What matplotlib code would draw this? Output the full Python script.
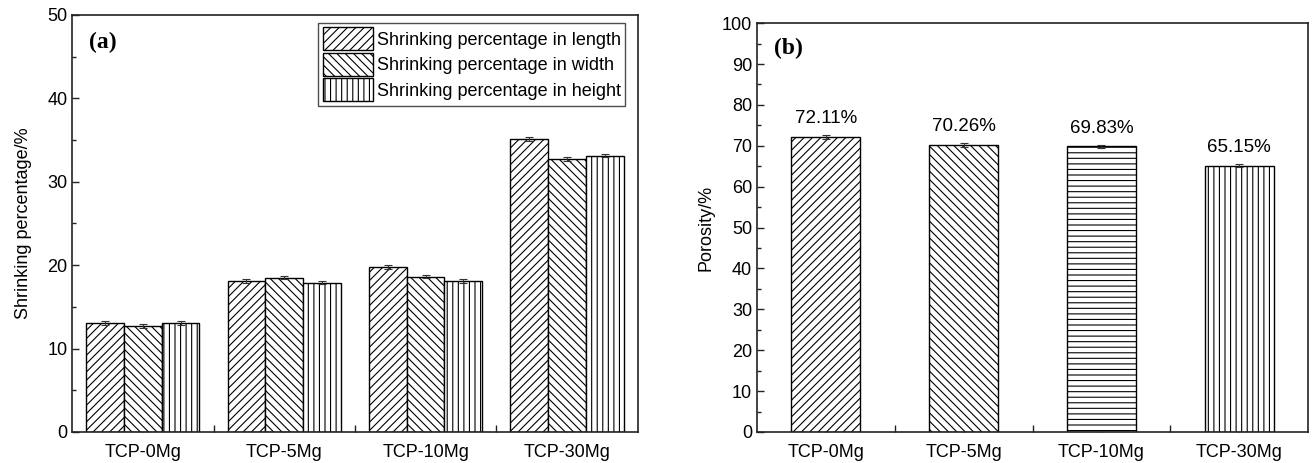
import matplotlib
matplotlib.use("Agg")
import matplotlib.pyplot as plt
import numpy as np
from matplotlib.ticker import MultipleLocator

plt.rcParams['font.family'] = ['Liberation Sans', 'DejaVu Sans']
plt.rcParams['hatch.linewidth'] = 0.8
plt.rcParams['hatch.color'] = 'black'

samples = ["TCP-0Mg", "TCP-5Mg", "TCP-10Mg", "TCP-30Mg"]

# Shrinking percentage (%) by direction
shrink_length = [13.1, 18.1, 19.8, 35.1]
shrink_width = [12.7, 18.5, 18.6, 32.7]
shrink_height = [13.1, 17.9, 18.1, 33.1]
shrink_length_err = [0.25, 0.25, 0.25, 0.2]
shrink_width_err = [0.2, 0.2, 0.2, 0.2]
shrink_height_err = [0.25, 0.2, 0.2, 0.2]
shrink_labels = ["Shrinking percentage in length",
                 "Shrinking percentage in width",
                 "Shrinking percentage in height"]

# Porosity (%)
porosity = [72.11, 70.26, 69.83, 65.15]
porosity_err = [0.45, 0.45, 0.45, 0.45]

fig = plt.figure(figsize=(13.12, 4.63), dpi=100)
ax1 = fig.add_axes([0.055, 0.067, 0.431, 0.901])
ax2 = fig.add_axes([0.577, 0.067, 0.420, 0.883])

FS = 13
err_kw = dict(ecolor='#333333', elinewidth=0.8, capsize=3, capthick=0.8)

def style_axes(ax, ymax, major, minor):
    ax.set_xlim(0.5, 4.5)
    ax.set_ylim(0, ymax)
    ax.set_xticks(np.arange(1, len(samples) + 1))
    ax.set_xticklabels(samples, fontsize=FS)
    ax.set_xticks(np.arange(1.5, len(samples), 1.0), minor=True)
    ax.yaxis.set_major_locator(MultipleLocator(major))
    ax.yaxis.set_minor_locator(MultipleLocator(minor))
    ax.tick_params(axis='both', which='both', direction='in', labelsize=FS,
                   color='#222222')
    ax.tick_params(axis='y', which='major', length=5, width=1)
    ax.tick_params(axis='y', which='minor', length=3, width=1)
    ax.tick_params(axis='x', which='major', length=4, width=1, pad=9)
    ax.tick_params(axis='x', which='minor', length=5, width=1)
    for s in ax.spines.values():
        s.set_linewidth(1.2)
        s.set_color('#222222')

# Panel (a): grouped bars
x = np.arange(1, len(samples) + 1)
w = 0.267
series = [(shrink_length, shrink_length_err, '////'),
          (shrink_width, shrink_width_err, '\\\\\\\\'),
          (shrink_height, shrink_height_err, '|||')]
for i, (vals, errs, hatch) in enumerate(series):
    ax1.bar(x + (i - 1) * w, vals, w, yerr=errs, facecolor='white',
            edgecolor='black', linewidth=1.0, hatch=hatch,
            label=shrink_labels[i], error_kw=err_kw, zorder=2)
style_axes(ax1, 50, 10, 5)
ax1.set_ylabel("Shrinking percentage/%", fontsize=FS, labelpad=11)
ax1.text(0.03, 0.96, "(a)", transform=ax1.transAxes, fontsize=17,
         fontweight='bold', family='Liberation Serif', va='top', ha='left')
leg = ax1.legend(loc='upper right', fontsize=FS, frameon=True, fancybox=False,
                 edgecolor='#222222', handlelength=2.8, handleheight=1.6,
                 handletextpad=0.2, borderpad=0.25, labelspacing=0.12,
                 borderaxespad=0.0, bbox_to_anchor=(0.978, 0.981))
leg.get_frame().set_linewidth(1.0)

# Panel (b): porosity bars
hatches_b = ['////', '\\\\\\\\', '---', '|||']
bars = ax2.bar(x, porosity, 0.5, yerr=porosity_err, facecolor='white',
               edgecolor='black', linewidth=1.0, error_kw=err_kw, zorder=2)
for b, h in zip(bars, hatches_b):
    b.set_hatch(h)
for xi, v in zip(x, porosity):
    ax2.annotate(f"{v:.2f}%", (xi, v), xytext=(0, 7), textcoords='offset points',
                 ha='center', va='bottom', fontsize=13.5)
style_axes(ax2, 100, 10, 5)
ax2.set_ylabel("Porosity/%", fontsize=FS, labelpad=5)
ax2.text(0.03, 0.965, "(b)", transform=ax2.transAxes, fontsize=17,
         fontweight='bold', family='Liberation Serif', va='top', ha='left')

fig.savefig("out.png", dpi=100)
